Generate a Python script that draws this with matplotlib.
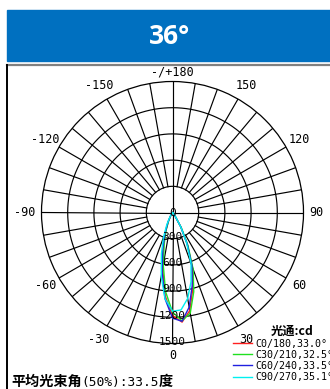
import numpy as np
import matplotlib
matplotlib.use("Agg")
import matplotlib.pyplot as plt
from matplotlib.patches import Rectangle
from matplotlib.font_manager import FontProperties

# ============================================================
# DATA
# ============================================================

angles = [-40, -35, -30, -25, -20, -15, -10, -5, 0, 5, 10, 15, 20, 25, 30, 35, 40]

c0_180 = [0, 5, 40, 115, 230, 400, 650, 960, 1180, 1260, 1140, 900, 660, 400, 185, 50, 5]
c30_210 = [0, 5, 35, 105, 210, 365, 610, 910, 1140, 1245, 1170, 940, 690, 420, 205, 60, 5]
c60_240 = [0, 10, 45, 125, 250, 430, 690, 990, 1210, 1250, 1100, 870, 650, 400, 185, 55, 5]
c90_270 = [0, 15, 60, 155, 300, 490, 740, 990, 1130, 1120, 1000, 820, 620, 380, 185, 60, 10]

series_names = ["C0/180,33.0°", "C30/210,32.5°", "C60/240,33.5°", "C90/270,35.1°"]
series_colors = ["#FF2020", "#20E020", "#2020E0", "#00F0F0"]

ring_values = [0, 300, 600, 900, 1200, 1500]
angle_ticks = [0, 30, 60, 90, 120, 150, 180, -150, -120, -90, -60, -30]
angle_labels = ["0", "30", "60", "90", "120", "150", "-/+180",
                "-150", "-120", "-90", "-60", "-30"]

title_text = "36°"
legend_title = "光通:cd"
beam_label = ["平均光束角", "(50%):33.5", "度"]

# ============================================================
# FIGURE
# ============================================================

W, H = 330, 389
fig = plt.figure(figsize=(W / 100, H / 100), dpi=100)


def fx(px):
    return px / W


def fy(py):
    return 1 - py / H


# header
fig.patches.append(Rectangle((fx(7), fy(61)), fx(330) - fx(7), 51 / H,
                             transform=fig.transFigure, color="#0070C0", zorder=0))
fig.text(fx(170), fy(37), title_text, color="white", fontsize=19,
         fontweight="bold", family="Open Sans", ha="center", va="center")

# frame
fig.lines.append(plt.Line2D([fx(7), fx(330)], [fy(64.5), fy(64.5)],
                            transform=fig.transFigure, color="#808080", lw=1.6))
fig.lines.append(plt.Line2D([fx(7), fx(7)], [fy(64.5), 0],
                            transform=fig.transFigure, color="black", lw=1.4))

# polar axes
cx, cy, R = 172.5, 212.5, 131
ax = fig.add_axes([(cx - R) / W, 1 - (cy + R) / H, 2 * R / W, 2 * R / H],
                  projection="polar")
ax.set_theta_zero_location("S")
ax.set_theta_direction(1)
ax.set_ylim(0, 1500)
ax.grid(False)
ax.set_xticks([])
ax.set_yticks([])
ax.spines["polar"].set_linewidth(0.9)

th = np.linspace(0, 2 * np.pi, 721)
for r in ring_values[1:-1]:
    ax.plot(th, np.full_like(th, r), color="black", lw=0.85)
for a in range(0, 360, 10):
    r0 = 0 if a % 90 == 0 else 300
    ax.plot([np.deg2rad(a)] * 2, [r0, 1500], color="black", lw=0.85)

# curves
lines = []
for vals, name, col in zip([c0_180, c30_210, c60_240, c90_270], series_names, series_colors):
    ln, = ax.plot(np.deg2rad(angles), vals, color=col, lw=1.0, label=name)
    lines.append(ln)

# radial labels
mono = "DejaVu Sans Mono"
for r in ring_values:
    ax.text(0, max(r - 20, 0), str(r), ha="center", va="center",
            fontsize=8, family=mono, zorder=5)

# angle labels
label_r = {0: 1.095, 180: 1.075, 90: 1.095, -90: 1.13}
for a, lab in zip(angle_ticks, angle_labels):
    ax.text(np.deg2rad(a), 1500 * label_r.get(a, 1.12), lab, ha="center",
            va="center", fontsize=8.5, family=mono, clip_on=False)

# legend
cjk = ["Noto Sans CJK SC", "DejaVu Sans"]
fig.text(fx(292), fy(331.5), legend_title, ha="center", va="center",
         fontsize=8.8, fontweight="bold", family=cjk)
leg = ax.legend(handles=lines, loc="upper left",
                bbox_to_anchor=(fx(233), fy(338.5)), bbox_transform=fig.transFigure,
                frameon=False, prop=FontProperties(family=mono, size=7.2),
                handlelength=1.9, handletextpad=0.3, labelspacing=0.12,
                borderpad=0, borderaxespad=0)

# bottom text
t1 = fig.text(fx(11), fy(386), beam_label[0], fontsize=10.2, fontweight="bold",
              family=cjk, va="baseline")
t2 = fig.text(0, fy(386), beam_label[1], fontsize=9.3, family=mono, va="baseline")
t3 = fig.text(0, fy(386), beam_label[2], fontsize=10.2, fontweight="bold",
              family=cjk, va="baseline")
fig.canvas.draw()
rend = fig.canvas.get_renderer()
inv = fig.transFigure.inverted()
x1 = inv.transform(t1.get_window_extent(rend))[1][0]
t2.set_x(x1)
x2 = inv.transform(t2.get_window_extent(rend))[1][0]
t3.set_x(x2)

# ============================================================
# EXPORT
# ============================================================

fig.savefig("out.png", dpi=100)
